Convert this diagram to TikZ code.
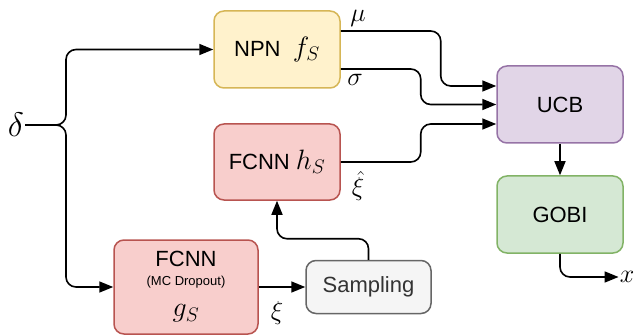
\documentclass[tikz,border=0pt]{standalone}
\usepackage{fix-cm}
\usepackage{fontspec}
\setmainfont{Liberation Sans}
\usetikzlibrary{arrows.meta}

\definecolor{npnfill}{HTML}{FFF2CC}
\definecolor{npnline}{HTML}{D6B656}
\definecolor{nnfill}{HTML}{F8CECC}
\definecolor{nnline}{HTML}{B85450}
\definecolor{ucbfill}{HTML}{E1D5E7}
\definecolor{ucbline}{HTML}{9673A6}
\definecolor{gobifill}{HTML}{D5E8D4}
\definecolor{gobiline}{HTML}{82B366}
\definecolor{smpfill}{HTML}{F5F5F5}
\definecolor{smpline}{HTML}{666666}

\newcommand{\mathlbl}[1]{{\fontsize{28}{32}\selectfont$#1$}}

\begin{document}
\begin{tikzpicture}
  \tikzset{
    block/.style={
      rectangle,
      rounded corners=10pt,
      line width=1.5pt,
      minimum width=126pt,
      minimum height=77pt,
      font=\fontsize{22}{26}\selectfont,
      align=center,
      inner sep=0pt
    },
    conn/.style={
      line width=1.6pt,
      rounded corners=10pt,
      -{Triangle[length=14pt,width=11pt]}
    },
    lbl/.style={
      font=\fontsize{26}{30}\selectfont,
      inner sep=1pt
    }
  }

  \useasboundingbox (0pt, 0pt) rectangle (634pt, 335pt);

  \node[block, fill=npnfill, draw=npnline] (npn) at (277pt, 285.5pt) {NPN\ \ \mathlbl{f_S}};
  \node[block, fill=nnfill, draw=nnline, minimum height=76pt] (fcnnh) at (277pt, 173pt) {FCNN\ \mathlbl{h_S}};
  \node[block, fill=nnfill, draw=nnline, minimum width=144pt, minimum height=94pt] (fcnng) at (186pt, 48pt)
    {FCNN\\[-7pt]{\fontsize{13}{15}\selectfont (MC Dropout)}\\[5pt]\mathlbl{g_S}};
  \node[block, fill=smpfill, draw=smpline, text=black!80, minimum width=125pt, minimum height=53pt] (smp) at (368.5pt, 48pt) {Sampling};
  \node[block, fill=ucbfill, draw=ucbline] (ucb) at (560pt, 230.5pt) {UCB};
  \node[block, fill=gobifill, draw=gobiline] (gobi) at (560pt, 120.5pt) {GOBI};

  \node[font=\fontsize{34}{40}\selectfont, inner sep=1pt] (delta) at (16pt, 210pt) {$\delta$};
  \node[lbl] (xout) at (627pt, 58pt) {$x$};
  \coordinate (split) at (66pt, 210pt);

  \node[lbl] (mu) at (358pt, 317pt) {$\mu$};
  \node[lbl] (sigma) at (355pt, 255pt) {$\sigma$};
  \node[lbl] (xihat) at (358pt, 149pt) {$\hat{\xi}$};
  \node[lbl] (xi) at (277pt, 22pt) {$\xi$};

  \draw[conn] (delta.east) -- (split) |- (npn.west);
  \draw[conn] (delta.east) -- (split) |- (fcnng.west);
  \draw[conn] ([yshift=18.5pt]npn.east) -- ++(100pt, 0pt) |- ([yshift=18.5pt]ucb.west);
  \draw[conn] ([yshift=-19.5pt]npn.east) -- ++(80pt, 0pt) |- (ucb.west);
  \draw[conn] (fcnnh.east) -- ++(80pt, 0pt) |- ([yshift=-19.5pt]ucb.west);
  \draw[conn] (fcnng.east) -- (smp.west);
  \draw[conn] (smp.north) -- ++(0pt, 21pt) -| (fcnnh.south);
  \draw[conn] (ucb) -- (gobi);
  \draw[conn] (gobi.south) |- (xout.west);
\end{tikzpicture}
\end{document}
